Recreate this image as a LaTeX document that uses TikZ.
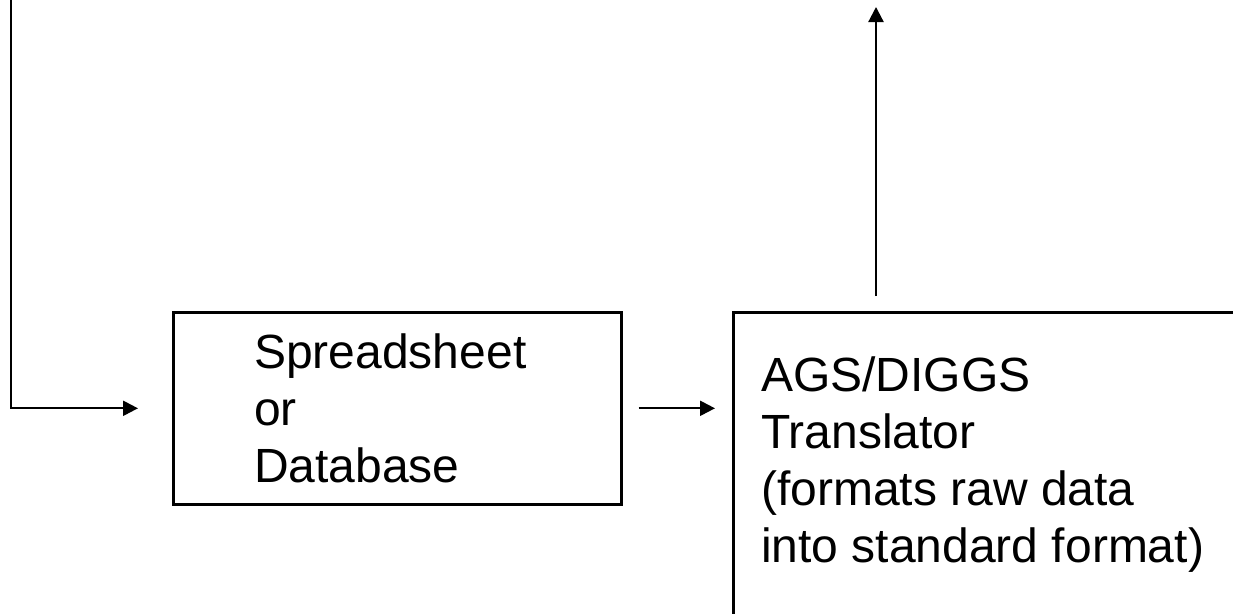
\documentclass[tikz,border=0pt]{standalone}
\usepackage{fontspec}
\setmainfont{Liberation Sans}
\usetikzlibrary{arrows.meta}
\begin{document}
\begin{tikzpicture}[x=1pt,y=-1pt,
  box/.style={draw, line width=2.6pt, inner sep=0pt, anchor=north west},
  boxtext/.style={anchor=north west, inner sep=0pt, align=left, font=\fontsize{48}{57}\selectfont},
  conn/.style={line width=2.2pt, -{Triangle[length=15pt,width=15pt]}}]
\useasboundingbox (0,0) rectangle (1233,613);
\clip (0,0) rectangle (1233,613);
\node[box, minimum width=448pt, minimum height=192pt] (db) at (172,311) {};
\node[box, minimum width=560pt, minimum height=340pt] (tr) at (732,311) {};
\node[boxtext] (dbtext) at (254,334) {Spreadsheet\\or\\Database};
\node[boxtext] (trtext) at (761,357) {AGS/DIGGS\\Translator\\(formats raw data\\into standard format)};
\coordinate (src) at (11,0);
\coordinate (out) at (876,7);
\draw[conn, shorten >=34pt] (src) |- (db.west);
\draw[conn, shorten <=16pt, shorten >=17pt] (db.east) -- (db.east -| tr.west);
\draw[conn, shorten <=15pt] (out |- tr.north) -- (out);
\end{tikzpicture}
\end{document}
